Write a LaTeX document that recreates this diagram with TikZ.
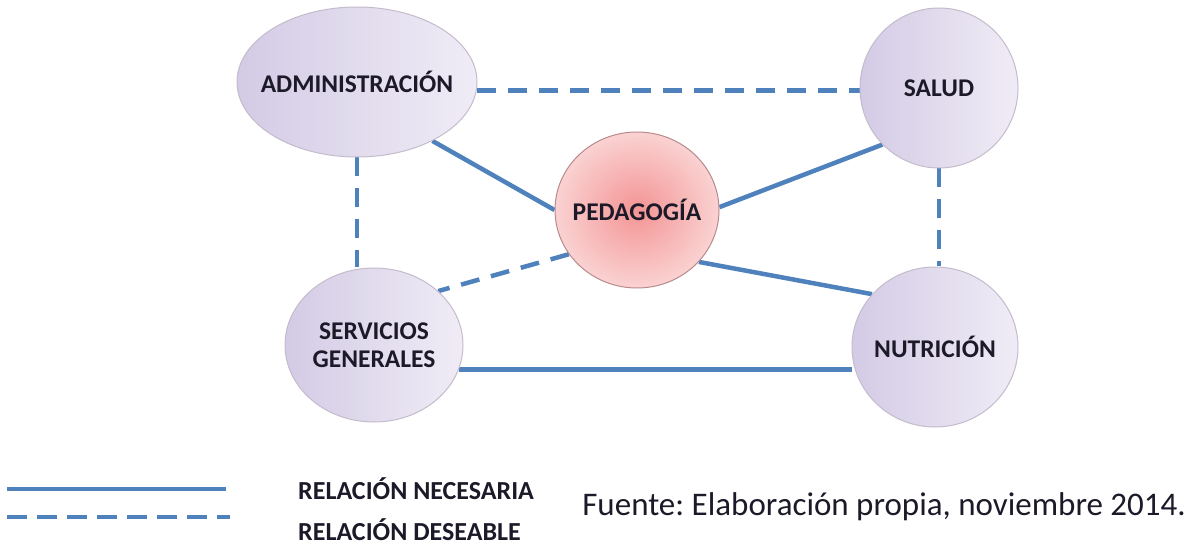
\documentclass[tikz,border=0pt]{standalone}
\usepackage{fontspec}
\setmainfont{Carlito}
\usetikzlibrary{shapes.geometric,backgrounds}
\definecolor{lineblue}{HTML}{4F81BD}
\definecolor{lavL}{HTML}{D3CBE5}
\definecolor{lavR}{HTML}{F0ECF6}
\definecolor{lavB}{HTML}{C4BBCC}
\definecolor{pinkC}{HTML}{F49494}
\definecolor{pinkO}{HTML}{FAD2D2}
\definecolor{pinkB}{HTML}{B98A8C}
\definecolor{txt}{HTML}{1C1A28}
\frenchspacing
\begin{document}
\begin{tikzpicture}[x=1pt,y=-1pt,
  ent/.style={ellipse, draw=lavB, line width=1pt, left color=lavL, right color=lavR,
    font=\fontsize{25.5}{28}\selectfont\bfseries, text=txt, align=center,
    inner xsep=-60pt, inner ysep=-12pt},
  pedst/.style={ellipse, draw=pinkB, line width=1pt, inner color=pinkC, outer color=pinkO,
    font=\fontsize{25.5}{28}\selectfont\bfseries, text=txt, align=center,
    inner xsep=-50pt, inner ysep=-8pt},
  nec/.style={draw=lineblue, line width=4.5pt},
  des/.style={draw=lineblue, line width=4.5pt, dash pattern=on 19pt off 12pt},
  legtext/.style={font=\fontsize{26}{28}\selectfont\bfseries, text=txt, anchor=west, inner sep=0pt},
  srctext/.style={font=\fontsize{33}{36}\selectfont, text=txt, anchor=east, inner sep=0pt}
]
\useasboundingbox (0,0) rectangle (1197,548);

\node[ent, minimum width=240, minimum height=150] (adm) at (357,82) {ADMINISTRACIÓN};
\node[ent, minimum width=158, minimum height=160] (sal) at (939,88) {SALUD};
\node[pedst, minimum width=164, minimum height=156] (ped) at (637,210) {PEDAGOGÍA};
\node[ent, minimum width=178, minimum height=154] (ser) at (374,345) {SERVICIOS\\GENERALES};
\node[ent, minimum width=166, minimum height=160] (nut) at (935,347) {NUTRICIÓN};

\begin{scope}[on background layer]
  \draw[des] (adm.-4) -- (sal.west |- adm.-4);
  \draw[nec] (adm.-38) -- (ped.180);
  \draw[nec] (ped.2) -- (sal.225);
  \draw[des] (adm.south) -- (adm.south |- ser.north);
  \draw[des] (sal.south) -- (sal.south |- nut.north);
  \draw[des] (ped.213) -- (ser.40);
  \draw[nec] (ped.-40) -- (nut.140);
  \draw[nec] (ser.-16) -- (nut.west |- ser.-16);
\end{scope}

\coordinate (l1a) at (7,489);
\coordinate (l1b) at (226,489);
\coordinate (l2a) at (7,517);
\coordinate (l2b) at (230,517);
\draw[nec] (l1a) -- (l1b);
\draw[des, dash pattern=on 20pt off 10pt] (l2a) -- (l2b);
\node[legtext] (lt1) at (298,489) {RELACIÓN NECESARIA};
\node[legtext] (lt2) at (298,530) {RELACIÓN DESEABLE};
\node[srctext] (src) at (1186,507) {Fuente: Elaboración propia, noviembre 2014.};
\end{tikzpicture}
\end{document}
